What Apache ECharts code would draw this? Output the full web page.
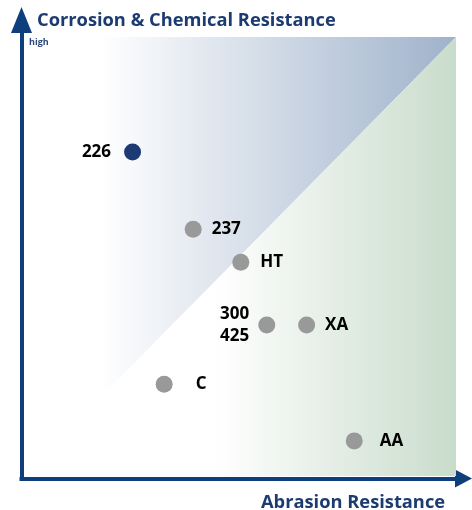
<!DOCTYPE html>
<html><head><meta charset="utf-8">
<script src="https://cdn.jsdelivr.net/npm/echarts@6/dist/echarts.min.js"></script>
<style>html,body{margin:0;padding:0;background:#fff}#c{width:472px;height:510px}</style>
</head><body><div id="c"></div>
<script>
// ---- data ----
const names = ['226', '237', 'HT', '300\n425', 'XA', 'C', 'AA'];
const abrasion = [25.3, 39.3, 50.3, 56.3, 65.5, 32.6, 76.5];
const corrosion = [73.8, 56.2, 48.7, 34.4, 34.4, 20.9, 8.0];
const highlighted = ['226'];
const xAxisTitle = 'Abrasion Resistance';
const yAxisTitle = 'Corrosion & Chemical Resistance';
const axisEndLabel = 'high';
const upperZone = [[18, 18], [100, 100], [18, 100]];
const lowerZone = [[18, 18], [100, 100], [100, 0], [18, 0]];

// ---- styles ----
const NAVY = '#0f3e7c';
const TITLE = '#1c3b70';
const FONT = '"Open Sans", "Noto Sans", sans-serif';
const labelPlace = {
  '226': ['left', 13], '237': ['right', 10], 'HT': ['right', 11],
  '300\n425': ['left', 9], 'XA': ['right', 10], 'C': ['right', 23], 'AA': ['right', 17]
};

function zone(points, stops, z) {
  return {
    type: 'custom', xAxisIndex: 0, yAxisIndex: 0, silent: true, z: z,
    clip: false, data: [[0, 0]],
    renderItem: function (params, api) {
      return {
        type: 'polygon',
        shape: { points: points.map(p => api.coord(p)) },
        style: { fill: new echarts.graphic.LinearGradient(0, 0, 1, 0, stops) }
      };
    }
  };
}

const points = names.map((n, i) => ({
  name: n,
  value: [abrasion[i], corrosion[i]],
  itemStyle: { color: highlighted.includes(n) ? '#1c3a74' : '#999999', opacity: 1 },
  label: { position: labelPlace[n][0], distance: labelPlace[n][1] }
}));

const hiddenAxis = (gi) => ({
  type: 'value', gridIndex: gi, min: 0, max: 100,
  axisLine: { show: false }, axisTick: { show: false },
  axisLabel: { show: false }, splitLine: { show: false }
});

const arrowAxis = (size) => ({
  type: 'value', gridIndex: 1, min: 0, max: 1,
  axisLine: {
    show: true, onZero: false,
    lineStyle: { color: NAVY, width: 4, cap: 'square' },
    symbol: ['none', 'triangle'], symbolSize: size
  },
  axisTick: { show: false }, axisLabel: { show: false }, splitLine: { show: false }
});

const chart = echarts.init(document.getElementById('c'), null, { renderer: 'canvas' });
chart.setOption({
  animation: false,
  backgroundColor: '#ffffff',
  grid: [
    { left: 23, right: 16, top: 37, bottom: 34 },
    { left: 21.5, right: 8.5, top: 20, bottom: 31.5 }
  ],
  xAxis: [hiddenAxis(0), arrowAxis([18, 17])],
  yAxis: [hiddenAxis(0), arrowAxis([21, 26])],
  title: [
    { text: yAxisTitle, left: 37, top: 10, padding: 0,
      textStyle: { fontFamily: FONT, fontSize: 18.3, fontWeight: 'bold', color: TITLE, lineHeight: 22 } },
    { text: xAxisTitle, left: 261, top: 492, padding: 0,
      textStyle: { fontFamily: FONT, fontSize: 18.3, fontWeight: 'bold', color: TITLE, lineHeight: 22 } }
  ],
  graphic: [
    { type: 'text', left: 29, top: 38, silent: true,
      style: { text: axisEndLabel, font: 'bold 9px ' + FONT, fill: '#2b4779' } },
    { type: 'text', left: 431, top: 464, silent: true,
      style: { text: axisEndLabel, font: 'bold 9px ' + FONT, fill: '#2b4779' } }
  ],
  series: [
    zone(upperZone, [{ offset: 0, color: '#ffffff' }, { offset: 1, color: '#9fb2cb' }], 1),
    zone(lowerZone, [{ offset: 0, color: '#ffffff' }, { offset: 0.32, color: '#ffffff' }, { offset: 1, color: '#c9dccb' }], 1),
    {
      type: 'scatter', xAxisIndex: 0, yAxisIndex: 0, z: 5,
      symbolSize: 17, data: points,
      label: {
        show: true, formatter: '{b}', color: '#000000', opacity: 1,
        fontFamily: FONT, fontSize: 17, fontWeight: 'bold', lineHeight: 22
      }
    }
  ]
});
</script></body></html>
